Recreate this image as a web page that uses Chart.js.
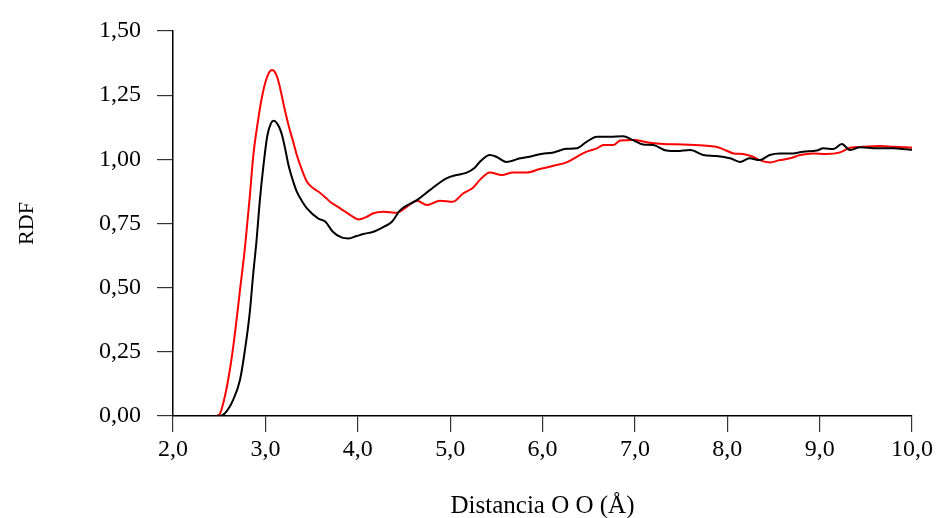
<!DOCTYPE html>
<html>
<head>
<meta charset="utf-8">
<script src="https://cdn.jsdelivr.net/npm/chart.js@4"></script>
<style>
    html, body { margin: 0; padding: 0; background: #fff; }
    #wrap { width: 936px; height: 518px; }
</style>
</head>
<body>
<div id="wrap"><canvas id="rdfChart" width="936" height="518"></canvas></div>
<script>
// O-O distances (Å) and RDF values
const redX = [2.0, 2.45, 2.50, 2.56, 2.62, 2.67, 2.725, 2.78, 2.83, 2.87, 2.92, 2.96, 3.00, 3.04, 3.07, 3.10, 3.13, 3.16, 3.20, 3.25, 3.30, 3.34, 3.40, 3.45, 3.52, 3.59, 3.66, 3.70, 3.81, 3.92, 4.01, 4.09, 4.17, 4.28, 4.42, 4.53, 4.64, 4.75, 4.89, 5.03, 5.14, 5.25, 5.32, 5.43, 5.56, 5.68, 5.83, 5.97, 6.12, 6.26, 6.37, 6.48, 6.59, 6.66, 6.77, 6.84, 6.98, 7.16, 7.31, 7.52, 7.74, 7.88, 7.96, 8.07, 8.17, 8.28, 8.35, 8.46, 8.57, 8.68, 8.79, 8.93, 9.07, 9.22, 9.33, 9.47, 9.65, 9.80, 9.94, 10.0];
const redY = [0, 0, 0.005, 0.074, 0.19, 0.32, 0.49, 0.66, 0.85, 1.017, 1.15, 1.237, 1.30, 1.338, 1.348, 1.342, 1.318, 1.277, 1.21, 1.134, 1.07, 1.017, 0.955, 0.913, 0.887, 0.87, 0.848, 0.835, 0.809, 0.783, 0.766, 0.775, 0.79, 0.796, 0.792, 0.815, 0.839, 0.822, 0.839, 0.835, 0.867, 0.89, 0.919, 0.949, 0.939, 0.949, 0.949, 0.962, 0.975, 0.988, 1.01, 1.03, 1.043, 1.056, 1.056, 1.073, 1.075, 1.065, 1.06, 1.058, 1.054, 1.049, 1.039, 1.023, 1.021, 1.01, 0.997, 0.988, 0.997, 1.004, 1.017, 1.023, 1.021, 1.027, 1.045, 1.049, 1.052, 1.049, 1.047, 1.045];

const blackX = [2.0, 2.5, 2.56, 2.65, 2.725, 2.78, 2.83, 2.87, 2.905, 2.94, 2.98, 3.02, 3.06, 3.09, 3.12, 3.15, 3.18, 3.215, 3.25, 3.30, 3.34, 3.40, 3.45, 3.57, 3.65, 3.73, 3.83, 3.90, 3.98, 4.06, 4.17, 4.28, 4.37, 4.46, 4.64, 4.78, 4.96, 5.07, 5.18, 5.26, 5.32, 5.43, 5.50, 5.61, 5.76, 5.86, 5.97, 6.12, 6.26, 6.37, 6.48, 6.59, 6.73, 6.87, 6.98, 7.09, 7.20, 7.34, 7.45, 7.60, 7.74, 7.88, 8.03, 8.14, 8.24, 8.35, 8.46, 8.57, 8.71, 8.82, 8.97, 9.04, 9.15, 9.24, 9.33, 9.44, 9.62, 9.80, 9.94, 10.0];
const blackY = [0, 0, 0.01, 0.062, 0.14, 0.26, 0.40, 0.56, 0.686, 0.84, 0.978, 1.09, 1.14, 1.15, 1.143, 1.125, 1.095, 1.04, 0.978, 0.915, 0.874, 0.835, 0.809, 0.77, 0.757, 0.718, 0.695, 0.692, 0.70, 0.709, 0.718, 0.737, 0.757, 0.802, 0.841, 0.88, 0.926, 0.939, 0.948, 0.965, 0.99, 1.017, 1.01, 0.99, 1.004, 1.01, 1.02, 1.027, 1.041, 1.043, 1.069, 1.088, 1.088, 1.09, 1.075, 1.058, 1.056, 1.034, 1.032, 1.036, 1.017, 1.013, 1.004, 0.99, 1.004, 0.997, 1.017, 1.023, 1.023, 1.03, 1.034, 1.043, 1.04, 1.06, 1.036, 1.047, 1.043, 1.043, 1.039, 1.037];

const xMin = 2.0, xMax = 10.0, xStep = 1.0;
const yMin = 0.0, yMax = 1.5, yStep = 0.25;

function toPoints(xs, ys) {
    return xs.map((x, i) => ({ x: x, y: ys[i] }));
}

const serif = "'Liberation Serif', 'DejaVu Serif', serif";

const ctx = document.getElementById('rdfChart').getContext('2d');
new Chart(ctx, {
    type: 'scatter',
    data: {
        datasets: [{
            label: 'black',
            data: toPoints(blackX, blackY),
            showLine: true,
            borderColor: '#000000',
            borderWidth: 2,
            pointRadius: 0,
            cubicInterpolationMode: 'monotone'
        }, {
            label: 'red',
            data: toPoints(redX, redY),
            showLine: true,
            borderColor: '#ff0000',
            borderWidth: 2,
            pointRadius: 0,
            cubicInterpolationMode: 'monotone'
        }]
    },
    options: {
        responsive: false,
        animation: false,
        layout: { padding: { top: 31, right: 24, left: 0, bottom: 0 } },
        plugins: {
            legend: { display: false },
            tooltip: { enabled: false }
        },
        scales: {
            x: {
                type: 'linear',
                min: xMin,
                max: xMax,
                afterFit: function (scale) { scale.height = 102; },
                border: { display: true, color: '#000', width: 1.5 },
                grid: { drawOnChartArea: false, drawTicks: true, tickLength: 16, color: '#333', lineWidth: 1.2 },
                ticks: {
                    stepSize: xStep,
                    padding: 3,
                    color: '#000',
                    font: { family: serif, size: 24 },
                    callback: v => v.toFixed(1).replace('.', ',')
                },
                title: {
                    display: true,
                    text: 'Distancia O O (Å)',
                    color: '#000',
                    font: { family: serif, size: 25 },
                    padding: { top: 0, bottom: -3 }
                }
            },
            y: {
                type: 'linear',
                min: yMin,
                max: yMax,
                afterFit: function (scale) { scale.width = 173; },
                border: { display: true, color: '#000', width: 1.5 },
                grid: { drawOnChartArea: false, drawTicks: true, tickLength: 16, color: '#333', lineWidth: 1.2 },
                ticks: {
                    stepSize: yStep,
                    padding: 16,
                    color: '#000',
                    font: { family: serif, size: 24 },
                    callback: v => v.toFixed(2).replace('.', ',')
                },
                title: {
                    display: true,
                    text: 'RDF',
                    color: '#000',
                    font: { family: serif, size: 22 },
                    padding: { top: 14, bottom: 0 }
                }
            }
        }
    }
});
</script>
</body>
</html>
